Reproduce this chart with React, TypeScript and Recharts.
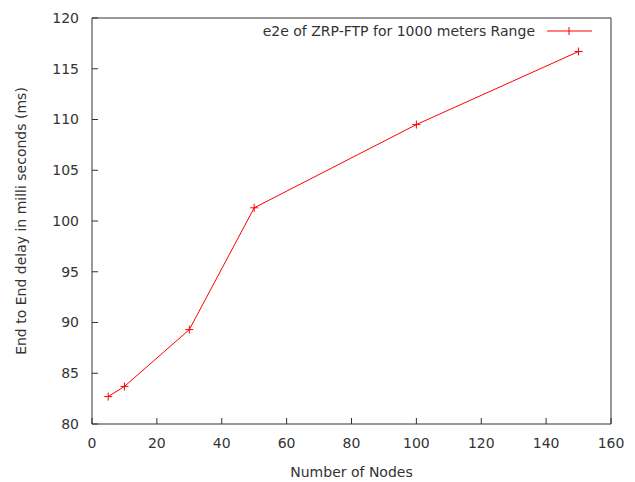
import { LineChart, Line, XAxis, YAxis, Legend } from 'recharts';

// measured end-to-end delay per node count
const nodeCounts = [5, 10, 30, 50, 100, 150];
const delaysMs = [82.7, 83.7, 89.3, 101.3, 109.5, 116.7];
const xTicks = [0, 20, 40, 60, 80, 100, 120, 140, 160];
const yTicks = [80, 85, 90, 95, 100, 105, 110, 115, 120];
const seriesName = 'e2e of ZRP-FTP for 1000 meters Range';
const xTitle = 'Number of Nodes';
const yTitle = 'End to End delay in milli seconds (ms)';

const chartData = nodeCounts.map((n, i) => ({ nodes: n, delay: delaysMs[i] }));

const FONT = '"DejaVu Sans", sans-serif';
const TEXT = '#333';
const BORDER = '#333';
const RED = '#ff0000';

const PlusDot = (props: { cx?: number; cy?: number; index?: number }) => {
  const { cx, cy, index } = props;
  if (cx == null || cy == null) return null;
  return (
    <g key={`dot-${index}`}>
      <line x1={cx - 4} x2={cx + 4} y1={cy} y2={cy} stroke={RED} strokeWidth={1} />
      <line x1={cx} x2={cx} y1={cy - 4} y2={cy + 4} stroke={RED} strokeWidth={1} />
    </g>
  );
};

const XTitle = ({ viewBox }: { viewBox?: { x: number; y: number; width: number; height: number } }) => {
  if (!viewBox) return null;
  const cx = viewBox.x + viewBox.width / 2;
  return (
    <text x={cx} y={viewBox.y + 53} textAnchor="middle" fill={TEXT} fontSize={14} fontFamily={FONT}>
      {xTitle}
    </text>
  );
};

const YTitle = ({ viewBox }: { viewBox?: { x: number; y: number; width: number; height: number } }) => {
  if (!viewBox) return null;
  const cx = viewBox.x + 21;
  const cy = viewBox.y + viewBox.height / 2;
  return (
    <text
      x={cx}
      y={cy}
      transform={`rotate(-90 ${cx} ${cy})`}
      textAnchor="middle"
      dominantBaseline="central"
      fill={TEXT}
      fontSize={14}
      fontFamily={FONT}
    >
      {yTitle}
    </text>
  );
};

const LegendBox = () => (
  <div style={{ display: 'flex', alignItems: 'center', fontFamily: FONT, fontSize: 14, color: TEXT, lineHeight: '16px' }}>
    <span>{seriesName}</span>
    <svg width={45} height={12} style={{ marginLeft: 12 }}>
      <line x1={0} x2={45} y1={6} y2={6} stroke={RED} strokeWidth={1} />
      <line x1={22} x2={22} y1={2} y2={10} stroke={RED} strokeWidth={1} />
    </svg>
  </div>
);

export default function App() {
  return (
    <div style={{ position: 'absolute', left: 0, top: 0, background: '#fff' }}>
      <LineChart width={635} height={482} data={chartData} margin={{ top: 17, right: 23, left: 0, bottom: 0 }}>
        <XAxis
          dataKey="nodes"
          type="number"
          domain={[0, 160]}
          ticks={xTicks}
          height={58}
          stroke={BORDER}
          tickSize={-6}
          tickMargin={20}
          tick={{ fill: TEXT, fontSize: 14, fontFamily: FONT }}
          label={<XTitle />}
        />
        <XAxis
          xAxisId="top"
          orientation="top"
          dataKey="nodes"
          type="number"
          domain={[0, 160]}
          ticks={xTicks}
          height={1}
          stroke={BORDER}
          tickSize={-6}
          tick={false}
        />
        <YAxis
          type="number"
          domain={[80, 120]}
          ticks={yTicks}
          width={92}
          stroke={BORDER}
          tickSize={-6}
          tickMargin={19}
          tick={{ fill: TEXT, fontSize: 14, fontFamily: FONT }}
          label={<YTitle />}
        />
        <YAxis
          yAxisId="right"
          orientation="right"
          type="number"
          domain={[80, 120]}
          ticks={yTicks}
          width={1}
          stroke={BORDER}
          tickSize={-6}
          tick={false}
        />
        <Legend
          layout="horizontal"
          align="center"
          verticalAlign="middle"
          content={<LegendBox />}
          wrapperStyle={{ position: 'absolute', top: 23, right: 43, left: 'auto', width: 'auto' }}
        />
        <Line
          type="linear"
          dataKey="delay"
          name={seriesName}
          stroke={RED}
          strokeWidth={1}
          dot={<PlusDot />}
          activeDot={false}
          isAnimationActive={false}
        />
      </LineChart>
    </div>
  );
}
